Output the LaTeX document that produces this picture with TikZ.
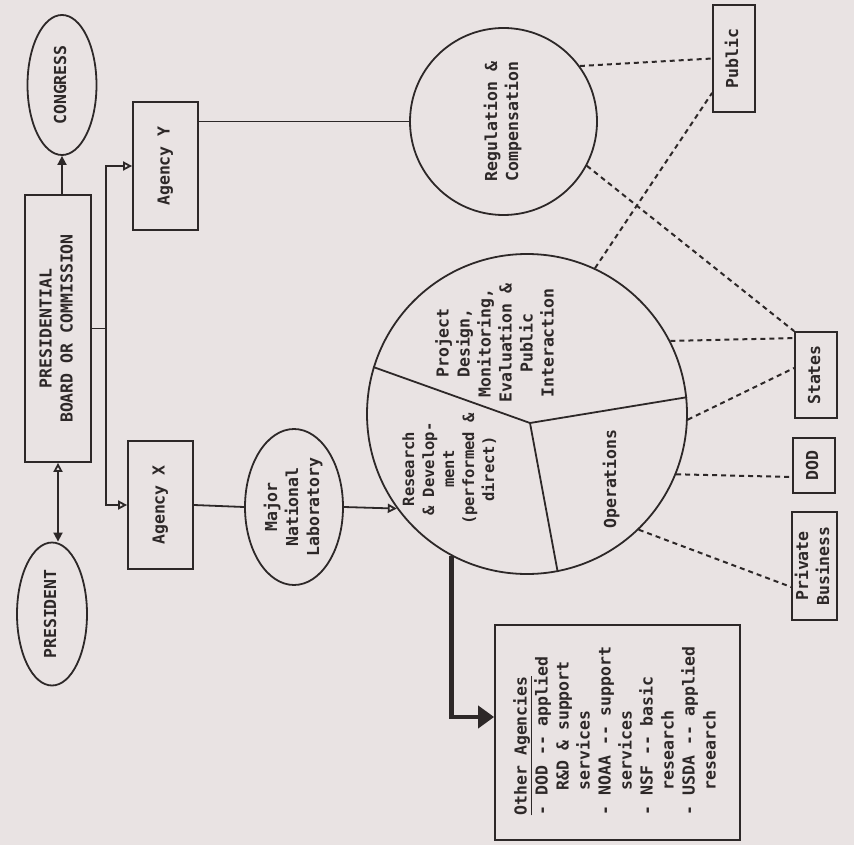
\documentclass[tikz,border=0pt]{standalone}
\usepackage{fontspec}
\usepackage{graphicx}
\usetikzlibrary{arrows.meta,shapes.geometric,calc}
\newfontfamily\tw{DejaVu Sans Mono}
\definecolor{bgc}{RGB}{233,227,227}
\definecolor{ink}{RGB}{45,40,40}
\newcommand{\rt}[1]{\rotatebox{90}{\begin{tabular}{@{}c@{}}#1\end{tabular}}}
\tikzset{
  box/.style={draw=ink, line width=1.8pt, rectangle, inner sep=0pt, text=ink, font=\tw\bfseries\fontsize{16.5}{21}\selectfont},
  oval/.style={box, ellipse},
  circ/.style={box, circle},
  lbl/.style={inner sep=0pt, text=ink, font=\tw\bfseries\fontsize{16.5}{21}\selectfont},
  conn/.style={draw=ink, line width=1.8pt},
  dots/.style={draw=ink, line width=2pt, dash pattern=on 5pt off 4pt},
  oarr/.style={-{Triangle[open,length=9pt,width=9pt]}},
  farr/.style={-{Triangle[length=9pt,width=9pt]}},
}
\begin{document}
\begin{tikzpicture}[x=1pt,y=-1pt]
\fill[bgc] (0,0) rectangle (854,845);
\useasboundingbox (0,0) rectangle (854,845);

% nodes
\node[oval, minimum width=69pt, minimum height=140pt] (congress) at (62,85) {\rt{CONGRESS}};
\node[oval, minimum width=70pt, minimum height=143pt] (pres) at (52,614) {\rt{PRESIDENT}};
\node[box, minimum width=66pt, minimum height=267pt] (board) at (58,328.5) {\rt{PRESIDENTIAL\\BOARD OR COMMISSION}};
\node[box, minimum width=65pt, minimum height=128pt] (agy) at (165.5,166) {\rt{Agency Y}};
\node[box, minimum width=65pt, minimum height=128pt] (agx) at (160.5,505) {\rt{Agency X}};
\node[oval, minimum width=98pt, minimum height=156pt] (lab) at (294,507) {\rt{Major\\National\\Laboratory}};
\node[circ, minimum size=320pt] (big) at (527,414) {};
\node[circ, minimum size=187pt] (reg) at (503.5,121.5) {\rt{Regulation \&\\Compensation}};
\node[box, minimum width=42pt, minimum height=107pt] (public) at (734,58.5) {\rt{Public}};
\node[box, minimum width=42pt, minimum height=86pt] (states) at (816,375) {\rt{States}};
\node[box, minimum width=42pt, minimum height=55pt] (dod) at (814,465.5) {\rt{DOD}};
\node[box, minimum width=45pt, minimum height=108pt] (priv) at (814.5,566) {\rt{Private\\Business}};
\node[box, minimum width=245pt, minimum height=215pt] (other) at (617.5,732.5) {};
\node[lbl] (othertxt) at (617,731) {\rotatebox{90}{\begin{tabular}{@{}l@{}}\underline{Other Agencies}\\- DOD -{}- applied\\\hspace*{25pt}R\&D \& support\\\hspace*{25pt}services\\- NOAA -{}- support\\\hspace*{25pt}services\\- NSF -{}- basic\\\hspace*{25pt}research\\- USDA -{}- applied\\\hspace*{25pt}research\end{tabular}}};

% pie sectors
\coordinate (hub) at (530,423);
\draw[conn] (big.163) -- (hub) -- (big.6);
\draw[conn] (hub) -- (big.-79);
\node[lbl, font=\tw\bfseries\fontsize{15.5}{20}\selectfont] (rd) at (450,469) {\rt{Research\\\& Develop-\\ment\\(performed \&\\direct)}};
\node[lbl] (proj) at (497,343) {\rt{Project\\Design,\\Monitoring,\\Evaluation \&\\Public\\Interaction}};
\node[lbl] (ops) at (612,479) {\rt{Operations}};

% connectors
\draw[conn, farr] (board.north -| congress.south) -- (congress.south);
\draw[conn, {Triangle[length=9pt,width=9pt]}-{Triangle[open,length=9pt,width=9pt]}] (board.south |- pres.north) -- (board.south);
\coordinate (br) at (106,328.5);
\draw[conn] (board.east) -- (br);
\draw[conn, oarr] (br) |- (agy.west);
\draw[conn, oarr] (br) |- (agx.west);
\draw[conn] (agx.east) -- (lab.west);
\draw[conn, oarr] (lab.east) -- (big.216);
\draw[conn] (agy.east |- reg.west) -- (reg.west);
\draw[ink, line width=4.5pt, -{Triangle[length=16pt,width=22pt]}] (big.242) |- ($(other.west)+(0,-15.5)$);

% dotted links
\draw[dots] (reg.36) -- (public.west);
\draw[dots] (reg.-28) -- (states.north west);
\draw[dots] (big.65) -- ($(public.south west)+(0,-20)$);
\draw[dots] (big.27) -- ($(states.north west)+(0,7)$);
\draw[dots] (big.-2) -- ($(states.west)+(0,-7)$);
\draw[dots] (big.-22) -- ($(dod.west)+(0,11.5)$);
\draw[dots] (big.-46) -- ($(priv.west)+(0,21)$);
\end{tikzpicture}
\end{document}
